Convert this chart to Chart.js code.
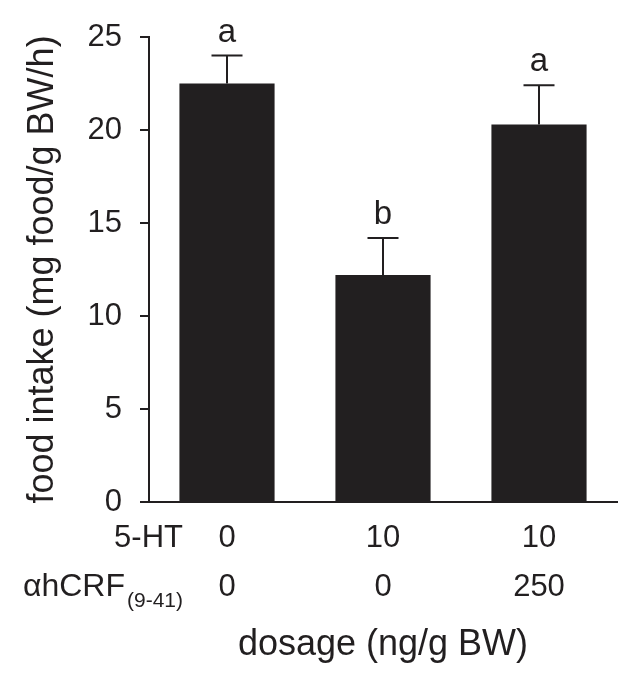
<!DOCTYPE html>
<html lang="en">
<head>
    <meta charset="UTF-8">
    <title>Food intake vs dosage</title>
    <script src="https://cdn.jsdelivr.net/npm/chart.js"></script>
    <style>
        body { margin: 0; background: #fff; }
        #wrap { width: 638px; height: 682px; }
    </style>
</head>
<body>
    <div id="wrap">
        <canvas id="intakeChart" width="638" height="682"></canvas>
    </div>

    <script>
        // data
        const fiveHT = ['0', '10', '10'];
        const crf = ['0', '0', '250'];
        const intake = [22.5, 12.2, 20.3];
        const sem = [1.5, 2.0, 2.1];
        const letters = ['a', 'b', 'a'];
        const yTicks = [0, 5, 10, 15, 20, 25];

        const ink = '#221f20';
        const fam = '"Liberation Sans", Arial, sans-serif';
        const rowLine = 49;   // spacing between the two tick rows
        const rowPad = 12;

        const extras = {
            id: 'extras',
            afterDatasetsDraw(chart) {
                const ctx = chart.ctx;
                const xs = chart.scales.x;
                const ys = chart.scales.y;
                ctx.save();
                ctx.strokeStyle = ink;
                ctx.fillStyle = ink;
                ctx.lineWidth = 2;

                intake.forEach((v, i) => {
                    const cx = xs.getPixelForValue(i);
                    const y0 = ys.getPixelForValue(v);
                    const y1 = ys.getPixelForValue(v + sem[i]);
                    ctx.beginPath();
                    ctx.moveTo(cx, y0);
                    ctx.lineTo(cx, y1);
                    ctx.moveTo(cx - 15.5, y1);
                    ctx.lineTo(cx + 15.5, y1);
                    ctx.stroke();

                    ctx.font = '33px ' + fam;
                    ctx.textAlign = 'center';
                    ctx.textBaseline = 'alphabetic';
                    ctx.fillText(letters[i], cx, y1 - 14);
                });

                // row headers for the two dosage lines
                const right = 183;
                const firstRow = xs.top + rowPad + rowLine / 2;
                ctx.textBaseline = 'middle';
                ctx.textAlign = 'right';
                ctx.font = '31px ' + fam;
                ctx.fillText('5-HT', right, firstRow);

                ctx.font = '21px ' + fam;
                const sub = '(9-41)';
                const subW = ctx.measureText(sub).width;
                ctx.fillText(sub, right, firstRow + rowLine + 14);
                ctx.font = '32px ' + fam;
                ctx.fillText('\u03B1hCRF', right - subW - 2, firstRow + rowLine);
                ctx.restore();
            }
        };

        new Chart(document.getElementById('intakeChart'), {
            type: 'bar',
            data: {
                labels: fiveHT.map((v, i) => [v, crf[i]]),
                datasets: [{
                    data: intake,
                    backgroundColor: ink,
                    borderWidth: 0,
                    barPercentage: 0.61,
                    categoryPercentage: 1
                }]
            },
            options: {
                responsive: false,
                animation: false,
                layout: { padding: { top: 37, right: 21, left: 0, bottom: 0 } },
                plugins: {
                    legend: { display: false },
                    tooltip: { enabled: false }
                },
                scales: {
                    x: {
                        grid: { display: false, drawTicks: false },
                        border: { display: true, color: ink, width: 2 },
                        ticks: {
                            color: ink,
                            padding: rowPad,
                            font: { family: fam, size: 31, lineHeight: rowLine / 31 },
                            maxRotation: 0
                        },
                        title: {
                            display: true,
                            text: 'dosage (ng/g BW)',
                            color: ink,
                            font: { family: fam, size: 36 },
                            padding: { top: 0, bottom: 15 }
                        },
                        afterFit(scale) { scale.height = 180; }
                    },
                    y: {
                        min: 0,
                        max: 25,
                        afterBuildTicks(scale) {
                            scale.ticks = yTicks.map(v => ({ value: v }));
                        },
                        grid: {
                            drawOnChartArea: false,
                            drawTicks: true,
                            tickLength: 9,
                            color: ink,
                            lineWidth: 2
                        },
                        border: { display: true, color: ink, width: 2 },
                        ticks: {
                            color: ink,
                            padding: 18,
                            font: { family: fam, size: 31 }
                        },
                        title: {
                            display: true,
                            text: 'food intake (mg food/g BW/h)',
                            color: ink,
                            font: { family: fam, size: 36 },
                            padding: { top: 21, bottom: 0 }
                        },
                        afterFit(scale) { scale.width = 149; }
                    }
                }
            },
            plugins: [extras]
        });
    </script>
</body>
</html>
